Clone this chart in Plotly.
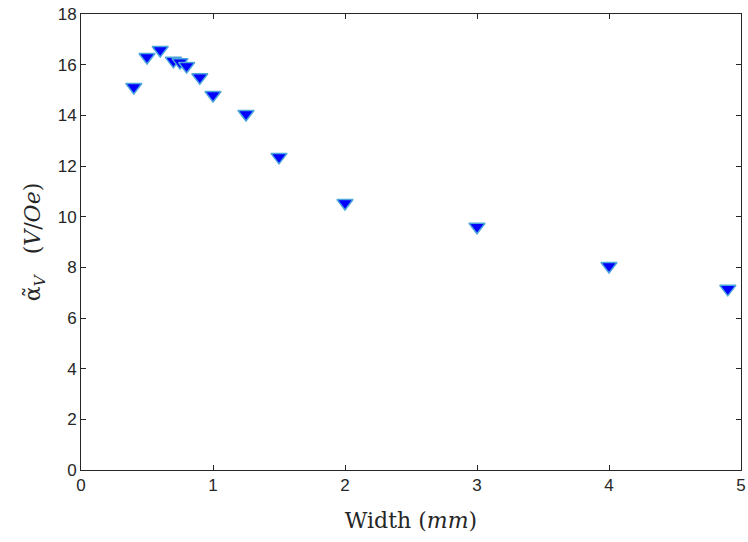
import plotly.graph_objects as go

width_mm = [0.4, 0.5, 0.6, 0.7, 0.75, 0.8, 0.9, 1.0, 1.25, 1.5, 2.0, 3.0, 4.0, 4.9]
alpha_v = [15.12, 16.3, 16.58, 16.15, 16.1, 15.95, 15.5, 14.8, 14.05, 12.36, 10.54, 9.6, 8.05, 7.15]

x_ticks = [0, 1, 2, 3, 4, 5]
y_ticks = [0, 2, 4, 6, 8, 10, 12, 14, 16, 18]

fig = go.Figure()
fig.add_trace(go.Scatter(
    x=width_mm, y=alpha_v, mode="markers",
    marker=dict(symbol="triangle-down", size=14, color="#0000FF",
                line=dict(color="#4DA6D9", width=1.5)),
    showlegend=False,
))

axis_common = dict(
    showgrid=False, zeroline=False, showline=True, linecolor="#262626", linewidth=1,
    mirror="ticks", ticks="inside", ticklen=5, tickcolor="#262626", automargin=False,
    tickfont=dict(family="Liberation Sans, Arial", size=17, color="#262626"),
)

title_font = dict(family="DejaVu Serif, Liberation Serif", size=22, color="#262626")

fig.update_layout(
    width=748, height=542,
    margin=dict(l=81, r=7, t=14, b=72, autoexpand=False),
    paper_bgcolor="white", plot_bgcolor="white",
    xaxis=dict(range=[0, 5], tickvals=x_ticks,
               title=dict(text="Width (<i>mm</i>)", standoff=18, font=title_font),
               **axis_common),
    yaxis=dict(range=[0, 18], tickvals=y_ticks,
               title=dict(text="α̃<sub><i>V</i></sub>   (<i>V</i>/<i>Oe</i>)  ", standoff=10, font=title_font),
               **axis_common),
)

fig.write_html(
    "out.html",
    config={"displayModeBar": False},
    post_script="document.body.style.margin='0';document.body.style.overflow='hidden';",
)
